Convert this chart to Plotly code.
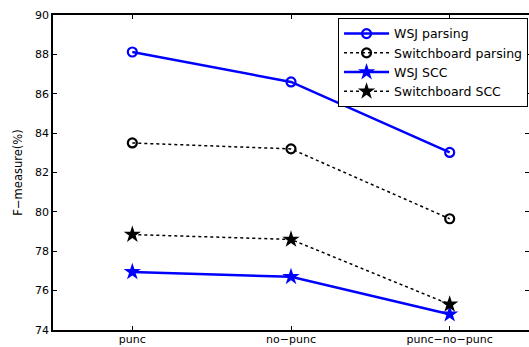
import plotly.graph_objects as go

categories = ["punc", "no\u2212punc", "punc\u2212no\u2212punc"]
wsj_parsing = [88.12, 86.6, 83.02]
swb_parsing = [83.5, 83.2, 79.65]
wsj_scc = [76.95, 76.7, 74.8]
swb_scc = [78.85, 78.6, 75.3]
y_ticks = [74, 76, 78, 80, 82, 84, 86, 88, 90]

xs = list(range(len(categories)))
fig = go.Figure()
fig.add_trace(go.Scatter(x=xs, y=wsj_parsing, name="WSJ parsing", mode="lines+markers",
                         line=dict(color="#0000ff", width=2.5),
                         marker=dict(symbol="circle-open", size=9, color="#0000ff", line=dict(width=2.2))))
fig.add_trace(go.Scatter(x=xs, y=swb_parsing, name="Switchboard parsing", mode="lines+markers",
                         line=dict(color="black", width=1.5, dash="dot"),
                         marker=dict(symbol="circle-open", size=9, color="black", line=dict(width=2.2))))
fig.add_trace(go.Scatter(x=xs, y=wsj_scc, name="WSJ SCC", mode="lines+markers",
                         line=dict(color="#0000ff", width=2.5),
                         marker=dict(symbol="star", size=13, color="#0000ff")))
fig.add_trace(go.Scatter(x=xs, y=swb_scc, name="Switchboard SCC", mode="lines+markers",
                         line=dict(color="black", width=1.5, dash="dot"),
                         marker=dict(symbol="star", size=13, color="black")))

fig.update_layout(
    width=529, height=347,
    margin=dict(l=53, r=0, t=15, b=17, autoexpand=False),
    plot_bgcolor="white", paper_bgcolor="white",
    font=dict(family="DejaVu Sans, sans-serif", size=11, color="black"),
    legend=dict(x=0.998, y=0.9905, xanchor="right", yanchor="top",
                bordercolor="black", borderwidth=1, bgcolor="white",
                font=dict(size=12.5, color="black"), tracegroupgap=0, itemwidth=45),
    showlegend=True,
)
fig.update_xaxes(range=[-0.5, 2.5], tickvals=xs, ticktext=categories, automargin=False,
                 showline=True, linecolor="black", linewidth=1.5, mirror="ticks",
                 ticks="inside", ticklen=4, tickcolor="black", showgrid=False, zeroline=False,
                 tickfont=dict(size=11, color="black"), ticklabelstandoff=-2)
fig.update_yaxes(range=[74, 90], tickvals=y_ticks, automargin=False,
                 showline=True, linecolor="black", linewidth=1.5, mirror="ticks",
                 ticks="inside", ticklen=4, tickcolor="black", showgrid=False, zeroline=False,
                 title=dict(text="F\u2212measure(%)", font=dict(size=11.5, color="black"), standoff=10),
                 tickfont=dict(size=11, color="black"))

fig.write_html("out.html", config={"displayModeBar": False},
               post_script="document.body.style.margin='0';document.body.style.overflow='hidden';")
